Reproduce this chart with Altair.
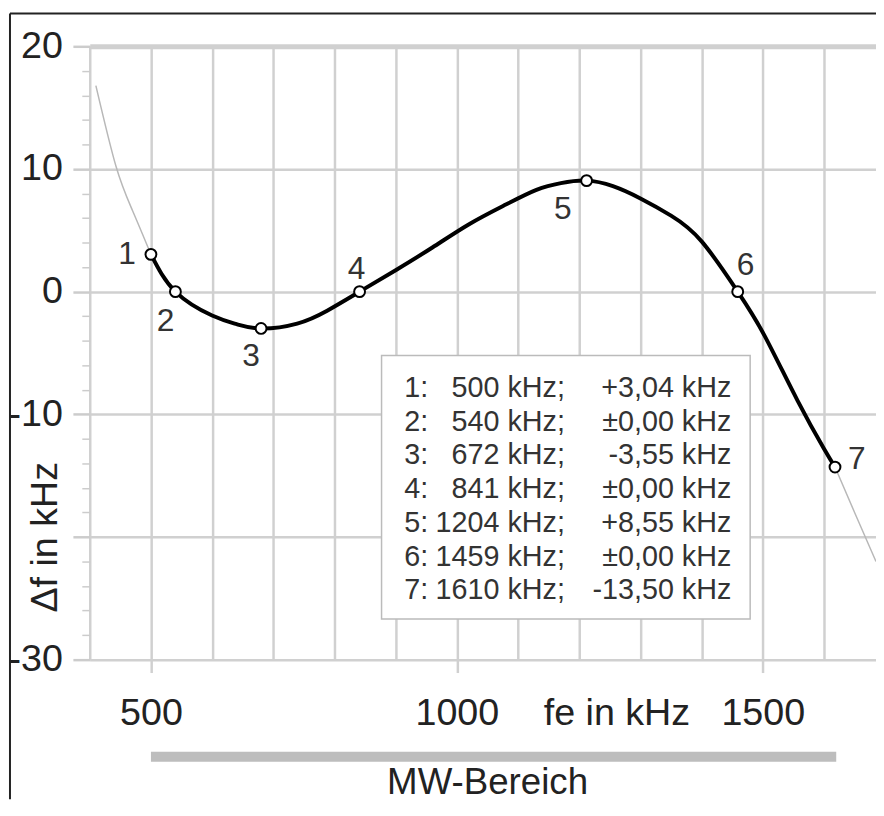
import altair as alt
import pandas as pd

# ---- data ----
curve_f = [500, 540, 600, 640, 680, 739, 788, 841, 900, 960, 1020, 1080, 1130, 1170, 1212, 1255, 1300, 1350, 1400, 1459, 1503, 1557, 1600, 1618]
curve_df = [3.04, 0.0, -1.95, -2.65, -3.0, -2.6, -1.55, 0.0, 1.75, 3.6, 5.5, 7.1, 8.3, 8.85, 9.05, 8.6, 7.6, 6.2, 4.1, 0.0, -3.6, -8.9, -12.8, -14.3]

left_f = [410, 443, 470, 500]
left_df = [16.8, 10.2, 6.6, 3.04]
right_f = [1618, 1650, 1685]
right_df = [-14.3, -18.0, -22.0]

marker_no = ["1", "2", "3", "4", "5", "6", "7"]
marker_f = [500, 540, 680, 841, 1212, 1459, 1618]
marker_df = [3.04, 0.0, -3.0, 0.0, 9.05, 0.0, -14.3]

legend_no = ["1:", "2:", "3:", "4:", "5:", "6:", "7:"]
legend_freq = ["500 kHz;", "540 kHz;", "672 kHz;", "841 kHz;", "1204 kHz;", "1459 kHz;", "1610 kHz;"]
legend_dev = ["+3,04 kHz", "±0,00 kHz", "-3,55 kHz", "±0,00 kHz", "+8,55 kHz", "±0,00 kHz", "-13,50 kHz"]

x_ticks = list(range(400, 1700, 100))
y_ticks = list(range(-30, 22, 2))
x_domain = [400, 1685]
y_domain = [-30, 20]
mw_band = [500, 1620]
mw_label = "MW-Bereich"

FONT = "Liberation Sans"
W, H = 793.5, 619
GRID = "#d0d0d0"

curve = pd.DataFrame({"f": curve_f, "df": curve_df})
ext = pd.DataFrame({
    "f": left_f + right_f,
    "df": left_df + right_df,
    "seg": ["left"] * len(left_f) + ["right"] * len(right_f),
})
markers = pd.DataFrame({"n": marker_no, "f": marker_f, "df": marker_df})
band = pd.DataFrame({"a": [mw_band[0]], "b": [mw_band[1]]})
one = pd.DataFrame({"k": [0]})

xs = alt.Scale(domain=x_domain, nice=False, zero=False)
ys = alt.Scale(domain=y_domain, nice=False, zero=False)

x_axis = alt.Axis(
    values=x_ticks, tickCount=60, grid=True, gridColor=GRID, gridWidth=2.5, domain=False,
    ticks=True, tickSize=13, tickWidth=2.5,
    tickColor={"condition": {"test": "datum.value % 500 === 0", "value": GRID}, "value": "transparent"},
    labelExpr="datum.value % 500 === 0 ? '' + datum.value : ''",
    labelFont=FONT, labelFontSize=38, labelColor="#222", labelPadding=41,
    labelBaseline="middle", labelFlush=False, labelOverlap=False,
    title="fe in kHz", titleX=531.5, titleY=54, titleAlign="center", titleBaseline="middle",
    titleFont=FONT, titleFontSize=38, titleFontWeight="normal", titleColor="#222",
)
y_axis = alt.Axis(
    values=y_ticks, tickCount=60, grid=True,
    gridColor={"condition": {"test": "datum.value % 10 === 0", "value": GRID}, "value": "transparent"},
    gridWidth={"condition": {"test": "datum.value === 20", "value": 5}, "value": 2.5},
    domain=False, ticks=True,
    tickSize={"condition": {"test": "datum.value % 10 === 0", "value": 17}, "value": 8},
    tickWidth={"condition": {"test": "datum.value % 10 === 0", "value": 2.5}, "value": 1.5},
    tickColor="#cccccc",
    labelExpr="datum.value % 10 === 0 && datum.value !== -20 ? '' + datum.value : ''",
    labelFont=FONT, labelFontSize=38, labelColor="#222", labelPadding=10.5,
    labelBaseline="middle", labelOverlap=False, labelFlush=False,
    title="Δf in kHz", titleAngle=270, titleX=-44.5, titleY=495, titleAlign="center",
    titleBaseline="middle", titleFont=FONT, titleFontSize=38, titleFontWeight="normal", titleColor="#222",
)

gray_line = alt.Chart(ext).mark_line(color="#b8b8b8", strokeWidth=1.5, interpolate="natural", clip=True).encode(
    x=alt.X("f:Q", scale=xs, axis=x_axis),
    y=alt.Y("df:Q", scale=ys, axis=y_axis),
    detail="seg:N",
)
black_line = alt.Chart(curve).mark_line(color="black", strokeWidth=4, interpolate="natural", clip=True).encode(
    x=alt.X("f:Q", scale=xs), y=alt.Y("df:Q", scale=ys)
)
points = alt.Chart(markers).mark_point(shape="circle", filled=True, fill="white", stroke="black",
                                       strokeWidth=2, size=120, opacity=1).encode(
    x=alt.X("f:Q", scale=xs), y=alt.Y("df:Q", scale=ys)
)

offsets = [(-24, 0), (-10, 30), (-10, 28), (-3, -23), (-24, 29), (8, -27), (22, -8)]
label_layers = []
for n, (dx, dy) in zip(marker_no, offsets):
    label_layers.append(
        alt.Chart(markers).transform_filter(alt.datum.n == n).mark_text(
            font=FONT, fontSize=32, color="#333", dx=dx, dy=dy, align="center", baseline="middle"
        ).encode(x=alt.X("f:Q", scale=xs), y=alt.Y("df:Q", scale=ys), text="n:N")
    )

# legend box with the table of values
box = alt.Chart(one).mark_rect(fill="white", stroke="#bbbbbb", strokeWidth=1.5).encode(
    x=alt.value(294.5), x2=alt.value(666.5), y=alt.value(312), y2=alt.value(578)
)
LEG_Y = 345
leg_common = dict(font=FONT, fontSize=29, color="#333", baseline="middle", lineHeight=34)
leg1 = alt.Chart(one).mark_text(align="left", **leg_common).encode(
    x=alt.value(317.5), y=alt.value(LEG_Y), text=alt.value(legend_no))
leg2 = alt.Chart(one).mark_text(align="right", **leg_common).encode(
    x=alt.value(479.5), y=alt.value(LEG_Y), text=alt.value(legend_freq))
leg3 = alt.Chart(one).mark_text(align="right", **leg_common).encode(
    x=alt.value(647.5), y=alt.value(LEG_Y), text=alt.value(legend_dev))

# MW band bar below the axis
mw_bar = alt.Chart(band).mark_rule(color="#bdbdbd", strokeWidth=10, strokeCap="butt").encode(
    x=alt.X("a:Q", scale=xs), x2="b:Q", y=alt.value(717)
)
mw_text = alt.Chart(one).mark_text(font=FONT, fontSize=37, color="#222", align="center", baseline="middle").encode(
    x=alt.value(401.5), y=alt.value(744), text=alt.value(mw_label)
)

# picture frame (top and left edges)
frame_top = alt.Chart(one).mark_rule(color="#222", strokeWidth=2).encode(
    x=alt.value(-80.5), x2=alt.value(W), y=alt.value(-33))
frame_left = alt.Chart(one).mark_rule(color="#222", strokeWidth=2).encode(
    x=alt.value(-80.5), y=alt.value(-33), y2=alt.value(760))

chart = alt.layer(
    gray_line, box, black_line, points, *label_layers, leg1, leg2, leg3, mw_bar, mw_text, frame_top, frame_left
).properties(
    width=W, height=H,
    padding={"left": 82.5, "top": 35, "right": 0, "bottom": 141},
    autosize=alt.AutoSizeParams(type="none"),
    background="white",
).configure_view(stroke=None).configure(font=FONT)

chart.save("out.html", embed_options={"renderer": "svg", "actions": False})
